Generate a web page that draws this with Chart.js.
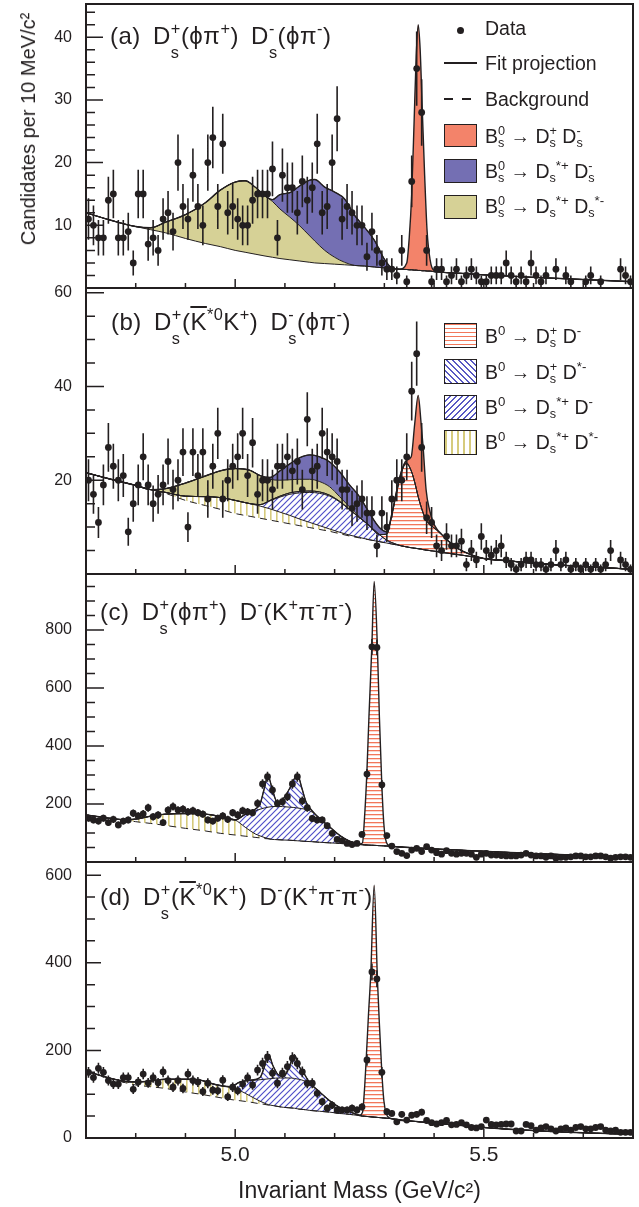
<!DOCTYPE html>
<html>
<head>
<meta charset="utf-8">
<script src="https://cdn.jsdelivr.net/npm/chart.js@4.4.1/dist/chart.umd.min.js"></script>
<style>
  body { margin: 0; background: #fff; }
  #page { position: relative; width: 639px; height: 1207px; overflow: hidden;
          font-family: "Liberation Sans", Arial, Helvetica, sans-serif; color: #231f20; }
  #page canvas { position: absolute; left: 0; }
  .t { position: absolute; white-space: nowrap; line-height: 2; }
  .title { font-size: 24px; word-spacing: 5px; letter-spacing: 0.5px; }
  .leg { font-size: 19.5px; left: 485px; }
  .ss { display: inline-block; font-size: 0.68em; line-height: 1.5; vertical-align: -0.88em; }
  .sl { display: inline-block; font-size: 0.65em; line-height: 0.9; vertical-align: -0.31em; }
  .u { font-size: 0.68em; vertical-align: 0.6em; }
  .ov { text-decoration: overline; }
  .box { position: absolute; left: 444px; width: 33px; box-sizing: border-box; border: 1.5px solid #231f20; }
  .mk { position: absolute; background: #231f20; }
</style>
</head>
<body>
<div id="page">
  <canvas id="pa" width="639" height="292" style="top:0px"></canvas>
  <canvas id="pb" width="639" height="294" style="top:284px"></canvas>
  <canvas id="pc" width="639" height="296" style="top:570px"></canvas>
  <canvas id="pd" width="639" height="349" style="top:858px"></canvas>

  <div class="t" style="font-size:20px;line-height:1;left:28px;top:129px;transform:translate(-50%,-50%) rotate(-90deg);">Candidates per 10 MeV/c²</div>

  <div class="t title" style="left:110px;top:11.7px">(a) D<span class="ss">+<br>s</span>(ϕπ<span class="u">+</span>) D<span class="ss">-<br>s</span>(ϕπ<span class="u">-</span>)</div>
  <div class="t title" style="left:111px;top:297.7px">(b) D<span class="ss">+<br>s</span>(<span class="ov">K</span><span class="u">*0</span>K<span class="u">+</span>) D<span class="ss">-<br>s</span>(ϕπ<span class="u">-</span>)</div>
  <div class="t title" style="left:100px;top:587.7px">(c) D<span class="ss">+<br>s</span>(ϕπ<span class="u">+</span>) D<span class="u">-</span>(K<span class="u">+</span>π<span class="u">-</span>π<span class="u">-</span>)</div>
  <div class="t title" style="left:100px;top:872.7px">(d) D<span class="ss">+<br>s</span>(<span class="ov">K</span><span class="u">*0</span>K<span class="u">+</span>) D<span class="u">-</span>(K<span class="u">+</span>π<span class="u">-</span>π<span class="u">-</span>)</div>

  <!-- legend (a) -->
  <div class="mk" style="left:457px;top:26.5px;width:7px;height:7px;border-radius:50%"></div>
  <div class="t leg" style="top:8.7px">Data</div>
  <div class="mk" style="left:444px;top:62.3px;width:33px;height:1.5px"></div>
  <div class="t leg" style="top:43.7px">Fit projection</div>
  <div class="mk" style="left:444px;top:98.3px;width:9px;height:1.5px"></div>
  <div class="mk" style="left:462px;top:98.3px;width:9px;height:1.5px"></div>
  <div class="t leg" style="top:79.7px">Background</div>
  <div class="box" style="top:124px;height:23px;background:#f3836a"></div>
  <div class="t leg" style="top:116.7px">B<span class="sl">0<br>s</span> → D<span class="sl">+<br>s</span> D<span class="sl">-<br>s</span></div>
  <div class="box" style="top:159px;height:24px;background:#746fb3"></div>
  <div class="t leg" style="top:151.7px">B<span class="sl">0<br>s</span> → D<span class="sl">&nbsp;<br>s</span><span class="u">*+</span> D<span class="sl">-<br>s</span></div>
  <div class="box" style="top:195px;height:24px;background:#d6d196"></div>
  <div class="t leg" style="top:186.7px">B<span class="sl">0<br>s</span> → D<span class="sl">&nbsp;<br>s</span><span class="u">*+</span> D<span class="sl">&nbsp;<br>s</span><span class="u">*-</span></div>

  <!-- legend (b) -->
  <div class="box" style="top:323px;height:25px;background:repeating-linear-gradient(to bottom,#f2775a 0 1.3px,transparent 1.3px 4px)"></div>
  <div class="t leg" style="top:316.7px">B<span class="u">0</span> → D<span class="sl">+<br>s</span> D<span class="u">-</span></div>
  <div class="box" style="top:359px;height:25px;background:repeating-linear-gradient(45deg,#5858c4 0 1.1px,transparent 1.1px 4.2px)"></div>
  <div class="t leg" style="top:352.7px">B<span class="u">0</span> → D<span class="sl">+<br>s</span> D<span class="u">*-</span></div>
  <div class="box" style="top:395px;height:25px;background:repeating-linear-gradient(-45deg,#5858c4 0 1.1px,transparent 1.1px 4.2px)"></div>
  <div class="t leg" style="top:387.7px">B<span class="u">0</span> → D<span class="sl">&nbsp;<br>s</span><span class="u">*+</span> D<span class="u">-</span></div>
  <div class="box" style="top:430px;height:25px;background:repeating-linear-gradient(to right,#d6cb7c 0 1.6px,transparent 1.6px 6px)"></div>
  <div class="t leg" style="top:422.7px">B<span class="u">0</span> → D<span class="sl">&nbsp;<br>s</span><span class="u">*+</span> D<span class="u">*-</span></div>
</div>

<script>
// histogram binning shared by all four panels (10 MeV/c2 bins from 4.70 to 5.80)
const BIN_START = 4.705;
const BIN_WIDTH = 0.01;

const xTickValues = [5.0, 5.5];
const xTickLabels = ['5.0', '5.5'];

// ---- (a) Ds+(phi pi+) Ds-(phi pi-) ----
const aCounts = [11,10,8,8,14,15,8,8,9,4, 15,15,7,8,6,11,12,9,20,13, 11,18,13,10,20,24,13,23,12,13,
  11,10,10,14,15,15,15,19,8,18, 16,16,12,17,14,16,23,12,13,20, 27,11,13,12,10,10,5,9,6,4,
  3,3,2,6,1,17,35,28,6,1, 3,3,1,2,3,1,2,3,2,1, 1,2,2,2,4,2,1,2,1,4, 2,1,2,0,3,0,2,1,0,0, 1,2,0,1,0,0,0,3,2,1];
const aMass = [4.70,4.75,4.80,4.83,4.86,4.90,4.94,4.97,5.00,5.02,5.04,5.06,5.075,5.09,5.11,5.13,5.15,5.16,5.18,5.20,
  5.22,5.24,5.26,5.28,5.30,5.315,5.33,5.345,5.35,5.355,5.36,5.364,5.368,5.372,5.376,5.381,5.386,5.392,5.40,5.45,5.50,5.60,5.70,5.80];
const aBg = [12.0,10.8,9.8,9.3,8.8,7.9,7.1,6.6,6.0,5.7,5.4,5.1,4.9,4.7,4.5,4.3,4.1,4.0,3.9,3.8,
  3.7,3.6,3.5,3.35,3.2,3.1,3.0,2.95,2.9,2.9,2.85,2.85,2.8,2.8,2.75,2.75,2.7,2.7,2.6,2.35,2.1,1.7,1.35,1.0];
const aTopBsDsStarDsStar = [12.0,10.8,9.8,9.6,10.5,11.7,13.6,15.6,16.9,17.1,16.1,14.7,13.8,12.6,11.3,9.9,8.3,7.5,6.0,4.9,
  4.1,3.6,3.5,3.35,3.2,3.1,3.0,2.95,2.9,2.9,2.85,2.85,2.8,2.8,2.75,2.75,2.7,2.7,2.6,2.35,2.1,1.7,1.35,1.0];
const aTopBsDsStarDs = [12.0,10.8,9.8,9.6,10.5,11.7,13.6,15.6,16.9,17.1,16.1,14.7,14.1,14.9,15.2,16.3,17.2,17.3,16.1,15.3,
  14.2,11.6,9.7,7.6,4.6,3.2,3.0,2.95,2.9,2.9,2.85,2.85,2.8,2.8,2.75,2.75,2.7,2.7,2.6,2.35,2.1,1.7,1.35,1.0];
const aFit = [12.0,10.8,9.8,9.6,10.5,11.7,13.6,15.6,16.9,17.1,16.1,14.7,14.1,14.9,15.2,16.3,17.2,17.3,16.1,15.3,
  14.2,11.6,9.7,7.6,4.6,3.2,3.0,4.0,8,15,27,37,42,38,29,18,9,4.5,2.8,2.35,2.1,1.7,1.35,1.0];

// ---- (b) Ds+(K*0bar K+) Ds-(phi pi-) ----
const bCounts = [20,17,11,19,27,23,20,21,9,15, 19,25,19,15,17,19,24,18,20,26, 10,26,21,26,16,23,30,16,20,23,
  25,30,21,28,17,20,20,18,23,23, 25,22,24,18,33,22,23,30,26,25, 24,18,18,14,15,16,13,13,6,13,
  10,16,20,20,25,39,47,27,12,11, 6,5,8,6,6,7,2,5,3,8, 5,4,5,6,3,2,1,2,3,3, 2,2,1,2,5,2,3,1,2,1, 2,1,2,1,2,5,0,3,2,1];
const bMass = [4.70,4.75,4.80,4.83,4.86,4.90,4.94,4.97,5.00,5.03,5.05,5.07,5.09,5.11,5.13,5.15,5.17,5.19,5.21,5.23,
  5.25,5.27,5.29,5.305,5.315,5.325,5.334,5.344,5.354,5.361,5.368,5.374,5.378,5.384,5.391,5.398,5.405,5.415,5.43,5.45,
  5.47,5.50,5.55,5.60,5.70,5.80];
const bBg = [21.6,20.2,18.9,18.0,17.2,15.7,14.6,13.8,12.9,12.3,11.9,11.5,11.1,10.7,10.3,9.9,9.5,9.1,8.6,8.1,
  7.7,7.3,6.9,6.6,6.4,6.2,6.0,5.8,5.6,5.5,5.4,5.3,5.2,5.1,5.0,4.9,4.8,4.6,4.4,4.1,3.8,3.3,2.8,2.3,1.6,1.0];
const bTopDsStarDStar = [21.6,20.2,18.9,18.0,17.4,16.6,16.5,16.3,15.7,15.0,14.5,13.9,13.2,12.5,11.7,11.0,10.3,9.6,8.9,8.3,
  7.8,7.3,6.9,6.6,6.4,6.2,6.0,5.8,5.6,5.5,5.4,5.3,5.2,5.1,5.0,4.9,4.8,4.6,4.4,4.1,3.8,3.3,2.8,2.3,1.6,1.0];
const bTopDsStarD = [21.6,20.2,18.9,18.0,17.4,16.6,16.5,16.3,15.7,15.0,14.8,15.6,16.4,17.0,17.3,17.4,17.2,16.6,15.4,13.7,
  12.0,10.3,8.4,7.2,6.7,6.3,6.0,5.8,5.6,5.5,5.4,5.3,5.2,5.1,5.0,4.9,4.8,4.6,4.4,4.1,3.8,3.3,2.8,2.3,1.6,1.0];
const bTopDsDStar = [21.6,20.2,18.9,18.0,17.4,16.6,16.5,16.3,15.7,15.0,14.8,15.7,16.6,17.3,17.6,17.7,17.5,16.8,15.5,13.8,
  12.0,10.3,8.4,7.2,6.7,6.3,6.0,5.8,5.6,5.5,5.4,5.3,5.2,5.1,5.0,4.9,4.8,4.6,4.4,4.1,3.8,3.3,2.8,2.3,1.6,1.0];
const bTopDsD = [21.6,20.2,18.9,18.0,17.4,16.6,16.5,16.3,15.7,15.0,14.8,15.7,16.6,17.3,17.6,17.7,17.5,16.8,15.5,13.8,
  12.0,10.3,8.4,8.5,12.5,17.5,21.5,23.6,22.0,19.6,16.5,14.3,13.0,11.5,10.6,10.0,9.4,8.4,6.9,5.3,4.3,3.3,2.8,2.3,1.6,1.0];
const bTopBsDsStarDsStar = [21.6,20.2,18.9,18.0,18.2,19.4,20.9,22.0,22.5,22.1,21.0,20.2,20.0,20.1,20.2,20.2,19.7,18.6,16.5,14.3,
  12.2,10.3,8.4,8.5,12.5,17.5,21.5,23.6,22.0,19.6,16.5,14.3,13.0,11.5,10.6,10.0,9.4,8.4,6.9,5.3,4.3,3.3,2.8,2.3,1.6,1.0];
const bTopBsDsStarDs = [21.6,20.2,18.9,18.0,18.2,19.4,20.9,22.0,22.5,22.1,21.0,20.6,22.0,23.5,24.8,25.4,25.0,23.9,21.8,19.0,
  16.5,13.0,9.9,9.0,12.8,17.9,21.8,23.8,22.0,19.6,16.5,14.3,13.0,11.5,10.6,10.0,9.4,8.4,6.9,5.3,4.3,3.3,2.8,2.3,1.6,1.0];
const bFit = [21.6,20.2,18.9,18.0,18.2,19.4,20.9,22.0,22.5,22.1,21.0,20.6,22.0,23.5,24.8,25.4,25.0,23.9,21.8,19.0,
  16.5,13.0,9.9,9.0,12.8,17.9,21.8,24.2,25.0,32.0,38.1,32.0,27.0,17.9,13.6,11.1,9.7,8.5,6.9,5.3,4.3,3.3,2.8,2.3,1.6,1.0];

// ---- (c) Ds+(phi pi+) D-(K+ pi- pi-) ----
const cCounts = [151,145,141,151,136,147,128,141,145,168, 159,166,187,156,162,136,179,191,179,182,
  173,177,170,165,145,141,151,159,147,170, 162,177,173,170,202,269,294,248,202,208,
  225,269,294,211,187,150,145,145,125,99, 78,74,64,60,64,95,303,742,740,266,
  91,55,36,30,22,41,47,36,53,41, 32,27,39,30,27,30,30,27,16,27, 30,24,24,22,21,21,21,24,30,24,
  21,21,16,21,13,16,16,18,21,21, 18,18,21,21,18,13,16,18,18,16];
const cMass = [4.70,4.73,4.76,4.78,4.80,4.83,4.86,4.90,4.94,4.97,5.00,5.02,5.04,5.05,5.058,5.066,5.074,5.085,5.095,5.11,
  5.118,5.126,5.134,5.143,5.155,5.17,5.19,5.21,5.23,5.25,5.256,5.26,5.2647,5.269,5.2748,5.2795,5.286,5.29,5.2949,5.299,
  5.304,5.31,5.35,5.40,5.45,5.50,5.55,5.60,5.65,5.70,5.75,5.80];
const cBg = [162,155,148,144,139,133,126,116,107,99,93,89,85,83,81,80,78,77,76,75,
  74,73,72,71,70,68,66,64,62,60,59.5,59,58.6,58.2,57.7,57.3,56.8,56.4,56,55.6,
  55.2,54.6,50,45,41,37,33,29,26,22,19,16];
const cTopDsStarDStar = [162,155,148,146,148,158,165,167,165,157,145,120,97,90,85,81,78,77,76,75,
  74,73,72,71,70,68,66,64,62,60,59.5,59,58.6,58.2,57.7,57.3,56.8,56.4,56,55.6,
  55.2,54.6,50,45,41,37,33,29,26,22,19,16];
const cTopDsStarD = [162,155,148,146,148,158,165,167,165,157,145,163,176,182,186,189,191,192,191,189,
  188,186,184,181,172,150,121,92,72,62,60,59,58.6,58.2,57.7,57.3,56.8,56.4,56,55.6,
  55.2,54.6,50,45,41,37,33,29,26,22,19,16];
const cTopDsDStar = [162,155,148,146,148,158,165,167,165,157,145,165,182,200,250,297,255,205,215,255,
  285,297,255,205,176,150,121,92,72,62,60,59,58.6,58.2,57.7,57.3,56.8,56.4,56,55.6,
  55.2,54.6,50,45,41,37,33,29,26,22,19,16];
const cFit = [162,155,148,146,148,158,165,167,165,157,145,165,182,200,250,297,255,205,215,255,
  285,297,255,205,176,150,121,92,72,62,66,150,303,500,742,967,740,500,266,130,
  68,57,50,45,41,37,33,29,26,22,19,16];

// ---- (d) Ds+(K*0bar K+) D-(K+ pi- pi-) ----
const dCounts = [150,138,159,150,131,123,123,138,138,111, 128,146,126,138,126,151,131,116,131,113,
  146,131,128,106,125,109,108,132,94,116, 108,123,138,121,155,170,185,148,125,148,
  163,182,170,151,125,125,102,83,68,75, 64,64,64,68,64,71,178,379,363,150,
  60,56,37,54,41,52,54,59,40,35, 32,35,40,30,31,35,30,24,23,26, 41,31,30,31,32,32,16,16,31,28,
  18,23,26,21,16,21,23,18,24,26, 21,21,24,26,18,16,18,13,13,13];
const dMass = [4.70,4.74,4.78,4.80,4.83,4.86,4.90,4.93,4.96,4.99,5.01,5.03,5.05,5.058,5.067,5.076,5.086,5.097,5.108,5.119,
  5.128,5.138,5.15,5.17,5.19,5.21,5.23,5.25,5.256,5.26,5.2634,5.268,5.2728,5.2795,5.286,5.29,5.2949,5.299,5.304,5.31,
  5.35,5.40,5.45,5.50,5.55,5.60,5.65,5.70,5.75,5.80];
const dBg = [153,139,126,121,117,113,105,100,94,88,85,82,78,77,75,74,72,70,69,68,
  66,65,63,61,59,56,54,51,50,49.7,49.3,48.8,48.3,47.6,47,46.6,46.1,45.7,45.2,44.6,
  39,34,29,24,20,17,14,12,10,8];
const dTopDsStarDStar = [153,139,129,128,130,134,134,132,122,116,108,96,84,80,76,74,72,70,69,68,
  66,65,63,61,59,56,54,51,50,49.7,49.3,48.8,48.3,47.6,47,46.6,46.1,45.7,45.2,44.6,
  39,34,29,24,20,17,14,12,10,8];
const dTopDsStarD = [153,139,129,128,130,134,134,132,122,117,128,131,133,134,135,136,137,137,137,136,
  134,131,124,105,85,70,60,52,50,49.7,49.3,48.8,48.3,47.6,47,46.6,46.1,45.7,45.2,44.6,
  39,34,29,24,20,17,14,12,10,8];
const dTopDsDStar = [153,139,129,128,130,134,134,132,122,117,128,132,138,160,190,165,145,140,160,190,
  165,148,126,105,85,70,60,52,50,49.7,49.3,48.8,48.3,47.6,47,46.6,46.1,45.7,45.2,44.6,
  39,34,29,24,20,17,14,12,10,8];
const dFit = [153,139,129,128,130,134,134,132,122,117,128,132,138,160,190,165,145,140,160,190,
  165,148,126,105,85,70,60,52,58,110,178,280,379,577,363,260,150,85,55,46,
  39,34,29,24,20,17,14,12,10,8];

const INK = '#231f20';
const FONT = '"Liberation Sans", Arial, Helvetica, sans-serif';

function hatch(kind, color) {
  const c = document.createElement('canvas');
  const s = kind === 'h' ? 4 : 6;
  c.width = s; c.height = s;
  const g = c.getContext('2d');
  g.fillStyle = color; g.strokeStyle = color;
  if (kind === 'h') g.fillRect(0, 0, s, 1.3);
  else if (kind === 'v') g.fillRect(0, 0, 1.6, s);
  else {
    g.lineWidth = 1.2;
    g.beginPath();
    if (kind === '/') {
      g.moveTo(0, s); g.lineTo(s, 0);
      g.moveTo(-1, 1); g.lineTo(1, -1);
      g.moveTo(s - 1, s + 1); g.lineTo(s + 1, s - 1);
    } else {
      g.moveTo(0, 0); g.lineTo(s, s);
      g.moveTo(s - 1, -1); g.lineTo(s + 1, 1);
      g.moveTo(-1, s - 1); g.lineTo(1, s + 1);
    }
    g.stroke();
  }
  return g.createPattern(c, 'repeat');
}

const ORANGE = '#f3836a', PURPLE = '#746fb3', KHAKI = '#d6d196';
const RED_H = hatch('h', '#f2775a');
const BLUE_B = hatch('\\', '#5050c8');
const BLUE_F = hatch('/', '#5050c8');
const KHAKI_V = hatch('v', '#d6cb7c');

const series = (xs, ys) => xs.map((x, i) => ({ x, y: ys[i] }));
function hits(counts) {
  const out = [];
  counts.forEach((n, i) => { if (n > 0) out.push({ x: BIN_START + i * BIN_WIDTH, y: n }); });
  return out;
}

// frame, inward ticks and Poisson error bars
const frame = {
  id: 'frame',
  afterDatasetsDraw(chart, args, o) {
    const { ctx, chartArea: a, scales: { x, y } } = chart;
    const di = chart.data.datasets.length - 1;
    const pts = chart.data.datasets[di].data;
    ctx.save();
    ctx.beginPath(); ctx.rect(a.left, a.top, a.width, a.height); ctx.clip();
    ctx.strokeStyle = INK; ctx.lineWidth = 1.6;
    ctx.beginPath();
    chart.getDatasetMeta(di).data.forEach((p, i) => {
      const e = Math.sqrt(pts[i].y);
      ctx.moveTo(p.x, y.getPixelForValue(pts[i].y - e));
      ctx.lineTo(p.x, y.getPixelForValue(pts[i].y + e));
    });
    ctx.stroke();
    ctx.restore();

    ctx.save();
    ctx.strokeStyle = INK; ctx.lineWidth = 1.5;
    ctx.beginPath();
    for (let k = 1; k * o.minorStep < y.max; k++) {
      const v = k * o.minorStep;
      const len = o.yMajor.includes(v) ? o.majorLen : 9;
      const py = y.getPixelForValue(v);
      ctx.moveTo(a.left, py); ctx.lineTo(a.left + len, py);
    }
    for (let k = 48; k <= 57; k++) {
      const v = k / 10;
      const major = xTickValues.some(t => Math.abs(t - v) < 1e-6);
      const px = x.getPixelForValue(v);
      ctx.moveTo(px, a.bottom); ctx.lineTo(px, a.bottom - (major ? 9 : 5));
    }
    ctx.stroke();
    ctx.lineWidth = 2;
    ctx.strokeRect(a.left, a.top, a.width, a.height);
    ctx.restore();
  }
};

const noPad = s => { s.paddingTop = 0; s.paddingBottom = 0; s.paddingLeft = 0; s.paddingRight = 0; };

function panel(id, p) {
  const ds = [{ data: series(p.mass, p.bg), borderColor: INK, borderWidth: 1, borderDash: p.bgDash, fill: false, order: 2 }];
  p.layers.forEach(l => ds.push({ data: series(p.mass, l.top), borderColor: INK, borderWidth: 1, fill: '-1', backgroundColor: l.fill, order: 3 }));
  ds.push({ data: series(p.mass, p.fit), borderColor: INK, borderWidth: 1.4, fill: '-1', backgroundColor: p.peakFill, order: 1 });
  ds.push({ data: hits(p.counts), showLine: false, pointRadius: 3.4, pointBackgroundColor: INK, pointBorderWidth: 0, order: 0 });
  ds.forEach(d => { if (d.pointRadius === undefined) d.pointRadius = 0; d.cubicInterpolationMode = 'monotone'; });

  const last = id === 'pd';
  new Chart(document.getElementById(id), {
    type: 'line',
    data: { datasets: ds },
    options: {
      responsive: false, animation: false, events: [],
      layout: { padding: { top: p.padTop, bottom: p.padBottom, left: 0, right: 6 } },
      plugins: {
        legend: { display: false }, tooltip: { enabled: false },
        filler: { drawTime: 'beforeDatasetsDraw' },
        frame: { yMajor: p.yTicks, minorStep: p.minorStep, majorLen: p.majorLen }
      },
      scales: {
        x: {
          type: 'linear', min: 4.7, max: 5.8, display: last,
          afterBuildTicks: s => { s.ticks = xTickValues.map(v => ({ value: v })); },
          afterFit: s => { noPad(s); if (last) s.height = 69; },
          ticks: { callback: (v, i) => xTickLabels[i], font: { family: FONT, size: 21 }, color: INK, padding: 5, maxRotation: 0, autoSkip: false },
          grid: { display: false, drawTicks: false }, border: { display: false },
          title: { display: true, text: 'Invariant Mass (GeV/c²)', font: { family: FONT, size: 23 }, color: INK, padding: { top: 0, bottom: 2 } }
        },
        y: {
          min: 0, max: p.yMax,
          afterBuildTicks: s => { s.ticks = p.yTicks.map(v => ({ value: v })); },
          afterFit: s => { noPad(s); s.width = 86; },
          ticks: { font: { family: FONT, size: 16 }, color: INK, padding: 14 },
          grid: { display: false, drawTicks: false }, border: { display: false }
        }
      }
    },
    plugins: [frame]
  });
}

panel('pa', {
  mass: aMass, bg: aBg, bgDash: [], fit: aFit, peakFill: ORANGE, counts: aCounts,
  layers: [{ top: aTopBsDsStarDsStar, fill: KHAKI }, { top: aTopBsDsStarDs, fill: PURPLE }],
  yMax: 45.3, yTicks: [10, 20, 30, 40], minorStep: 2, majorLen: 17, padTop: 3, padBottom: 4
});
panel('pb', {
  mass: bMass, bg: bBg, bgDash: [7, 5], fit: bFit, peakFill: ORANGE, counts: bCounts,
  layers: [{ top: bTopDsStarDStar, fill: KHAKI_V }, { top: bTopDsStarD, fill: BLUE_F }, { top: bTopDsDStar, fill: BLUE_B },
           { top: bTopDsD, fill: RED_H }, { top: bTopBsDsStarDsStar, fill: KHAKI }, { top: bTopBsDsStarDs, fill: PURPLE }],
  yMax: 61, yTicks: [20, 40, 60], minorStep: 5, majorLen: 18, padTop: 4, padBottom: 4
});
panel('pc', {
  mass: cMass, bg: cBg, bgDash: [7, 5], fit: cFit, peakFill: RED_H, counts: cCounts,
  layers: [{ top: cTopDsStarDStar, fill: KHAKI_V }, { top: cTopDsStarD, fill: BLUE_F }, { top: cTopDsDStar, fill: BLUE_B }],
  yMax: 993, yTicks: [200, 400, 600, 800], minorStep: 50, majorLen: 18, padTop: 4, padBottom: 4
});
panel('pd', {
  mass: dMass, bg: dBg, bgDash: [7, 5], fit: dFit, peakFill: RED_H, counts: dCounts,
  layers: [{ top: dTopDsStarDStar, fill: KHAKI_V }, { top: dTopDsStarD, fill: BLUE_F }, { top: dTopDsDStar, fill: BLUE_B }],
  yMax: 630, yTicks: [0, 200, 400, 600], minorStep: 50, majorLen: 15, padTop: 4, padBottom: 0
});
</script>
</body>
</html>
